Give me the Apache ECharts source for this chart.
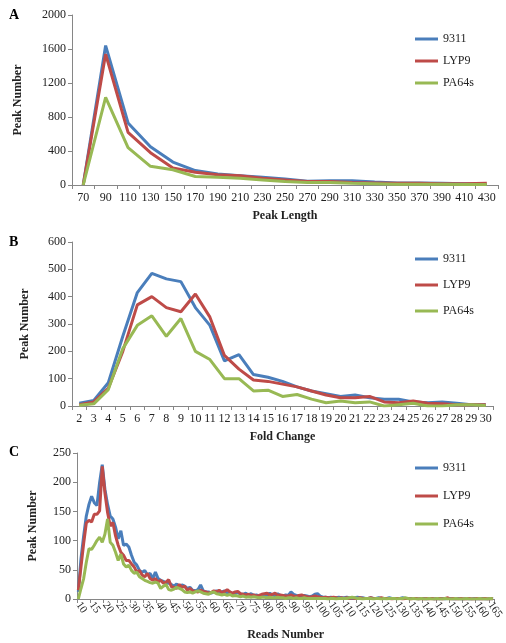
<!DOCTYPE html>
<html>
<head>
<meta charset="utf-8">
<script src="https://cdn.jsdelivr.net/npm/echarts@6.0.0/dist/echarts.min.js"></script>
<style>
html, body { margin: 0; padding: 0; background: #fff; }
#chart { width: 506px; height: 643px; }
</style>
</head>
<body>
<div id="chart"></div>
<script>
// ---------- data ----------
var seriesNames = ['9311', 'LYP9', 'PA64s'];

// A: peak length
var lengthCats = ['70', '90', '110', '130', '150', '170', '190', '210', '230', '250',
    '270', '290', '310', '330', '350', '370', '390', '410', '430'];
var length9311 = [0, 1640, 730, 450, 270, 170, 130, 110, 90, 70, 45, 50, 50, 35, 25, 25, 20, 15, 10];
var lengthLYP9 = [0, 1540, 620, 380, 200, 150, 120, 110, 80, 60, 40, 40, 30, 25, 20, 20, 15, 15, 20];
var lengthPA64s = [0, 1030, 440, 220, 180, 100, 90, 80, 60, 40, 30, 30, 20, 15, 10, 10, 8, 5, 5];

// B: fold change
var foldCats = ['2', '3', '4', '5', '6', '7', '8', '9', '10', '11', '12', '13', '14', '15', '16',
    '17', '18', '19', '20', '21', '22', '23', '24', '25', '26', '27', '28', '29', '30'];
var fold9311 = [10, 20, 85, 255, 415, 485, 465, 455, 360, 295, 165, 188, 115, 105, 90,
    70, 55, 45, 35, 40, 30, 25, 25, 15, 12, 15, 10, 5, 5];
var foldLYP9 = [5, 15, 65, 200, 370, 400, 360, 345, 410, 325, 185, 135, 95, 90, 80,
    70, 55, 40, 30, 30, 35, 15, 12, 18, 10, 8, 5, 5, 5];
var foldPA64s = [3, 8, 60, 210, 295, 330, 255, 320, 200, 170, 100, 100, 55, 58, 35,
    42, 25, 12, 18, 12, 15, 0, 5, 10, 0, 0, 5, 5, 2];

// C: reads number (10 .. 166)
var readsCats = [];
for (var r = 10; r <= 166; r++) readsCats.push(String(r));
var reads9311 = [
    12, 69, 108, 142, 162, 176, 165, 160, 199, 230,
    188, 162, 142, 137, 123, 103, 117, 92, 94, 89,
    75, 63, 58, 49, 46, 49, 41, 44, 35, 46,
    35, 32, 30, 28, 27, 25, 22, 26, 20, 24,
    22, 18, 20, 15, 14, 16, 24, 14, 12, 12,
    10, 12, 14, 11, 12, 14, 10, 12, 9, 10,
    11, 8, 8, 10, 7, 9, 6, 7, 5, 6,
    8, 6, 10, 7, 6, 9, 6, 5, 7, 6,
    12, 8, 6, 5, 4, 6, 5, 4, 5, 8,
    9, 5, 3, 3, 2, 3, 2, 2, 3, 2,
    2, 3, 2, 1, 2, 3, 2, 2, 1, 1,
    2, 1, 1, 2, 1, 1, 1, 2, 1, 1,
    1, 1, 2, 1, 1, 1, 1, 1, 0, 1,
    1, 0, 1, 1, 0, 1, 0, 1, 0, 1,
    1, 0, 0, 1, 0, 0, 1, 0, 0, 1,
    0, 0, 1, 0, 0, 1, 0];
var readsLYP9 = [
    15, 55, 95, 130, 135, 132, 145, 145, 151, 227,
    182, 148, 125, 131, 108, 92, 80, 75, 66, 66,
    60, 55, 46, 49, 41, 38, 44, 35, 32, 35,
    29, 32, 27, 29, 33, 21, 20, 18, 25, 20,
    22, 15, 18, 14, 13, 12, 15, 13, 12, 10,
    11, 14, 12, 15, 11, 13, 16, 12, 10, 12,
    13, 9, 8, 7, 8, 6, 7, 5, 6, 8,
    9, 10, 7, 8, 10, 6, 7, 6, 5, 5,
    7, 5, 4, 6, 7, 5, 4, 3, 4, 5,
    4, 3, 2, 3, 2, 2, 3, 2, 1, 2,
    1, 2, 1, 2, 1, 1, 2, 1, 1, 1,
    2, 1, 1, 1, 2, 1, 1, 1, 0, 1,
    1, 1, 0, 1, 1, 0, 1, 1, 0, 1,
    0, 1, 0, 1, 0, 0, 1, 0, 1, 2,
    0, 1, 0, 0, 1, 0, 0, 1, 0, 0,
    1, 0, 0, 1, 0, 0, 1];
var readsPA64s = [
    0, 18, 35, 63, 86, 85, 92, 100, 106, 97,
    111, 137, 97, 92, 80, 66, 77, 60, 55, 58,
    49, 44, 46, 38, 35, 32, 30, 28, 27, 29,
    27, 18, 22, 25, 16, 15, 17, 20, 18, 16,
    12, 11, 12, 10, 12, 14, 12, 10, 9, 8,
    11, 12, 9, 8, 7, 8, 6, 8, 5, 6,
    5, 4, 5, 3, 4, 3, 4, 3, 2, 3,
    3, 2, 3, 2, 2, 3, 2, 2, 1, 2,
    2, 1, 2, 1, 1, 2, 1, 1, 1, 1,
    1, 1, 1, 1, 0, 1, 1, 0, 1, 1,
    1, 1, 2, 3, 2, 1, 1, 0, 1, 1,
    1, 0, 1, 1, 0, 1, 0, 1, 1, 1,
    0, 1, 1, 2, 1, 0, 1, 0, 0, 1,
    0, 0, 1, 0, 0, 1, 0, 0, 1, 0,
    0, 0, 1, 0, 0, 0, 1, 0, 0, 0,
    0, 1, 0, 0, 0, 1, 0];

// ---------- style ----------
var serif = 'Liberation Serif';
var axisColor = '#868686';
var textColor = '#222';
var colors = ['#4a7ebb', '#be4b48', '#98b954'];

function xAxisOf(grid, cats, name, labelOpt) {
    return {
        type: 'category',
        gridIndex: grid,
        data: cats,
        boundaryGap: true,
        name: name,
        nameLocation: 'middle',
        nameGap: labelOpt.nameGap,
        nameTextStyle: { fontFamily: serif, fontWeight: 'bold', fontSize: 12, color: textColor },
        axisLine: { lineStyle: { color: axisColor } },
        axisTick: { show: true, length: 4, interval: labelOpt.interval, lineStyle: { color: axisColor } },
        axisLabel: {
            interval: labelOpt.interval,
            rotate: labelOpt.rotate || 0,
            margin: labelOpt.margin,
            showMinLabel: true,
            hideOverlap: false,
            fontFamily: serif, fontSize: labelOpt.fontSize || 12, color: textColor
        },
        splitLine: { show: false }
    };
}

function yAxisOf(grid, max, step, gap) {
    return {
        type: 'value',
        gridIndex: grid,
        min: 0, max: max, interval: step,
        name: 'Peak Number',
        nameLocation: 'middle',
        nameGap: gap,
        nameTextStyle: { fontFamily: serif, fontWeight: 'bold', fontSize: 12, color: textColor },
        axisLine: { show: true, lineStyle: { color: axisColor } },
        axisTick: { show: true, length: 4, lineStyle: { color: axisColor } },
        axisLabel: {
            margin: 6, fontFamily: serif, fontSize: 12, color: textColor,
            formatter: function (v) { return String(v); }
        },
        splitLine: { show: false }
    };
}

function legendOf(top, gap) {
    return {
        data: seriesNames,
        orient: 'vertical',
        left: 410, top: top,
        icon: 'rect',
        itemWidth: 23, itemHeight: 3,
        itemGap: gap,
        textStyle: { fontFamily: serif, fontSize: 12, color: textColor }
    };
}

function lineOf(name, grid, data, idx) {
    return {
        name: name, type: 'line',
        xAxisIndex: grid, yAxisIndex: grid,
        data: data,
        symbol: 'none',
        lineStyle: { width: 3, color: colors[idx] },
        itemStyle: { color: colors[idx] }
    };
}

var chart = echarts.init(document.getElementById('chart'));
chart.setOption({
    animation: false,
    color: colors,
    grid: [
        { left: 72, right: 8, top: 15, height: 170 },
        { left: 72, right: 13, top: 242, height: 164 },
        { left: 77, right: 9, top: 453, height: 146 }
    ],
    xAxis: [
        xAxisOf(0, lengthCats, 'Peak Length', { interval: 0, margin: 7, nameGap: 25 }),
        xAxisOf(1, foldCats, 'Fold Change', { interval: 0, margin: 7, nameGap: 25 }),
        xAxisOf(2, readsCats, 'Reads Number', { interval: 4, margin: 4, rotate: -55, fontSize: 11, nameGap: 30 })
    ],
    yAxis: [
        yAxisOf(0, 2000, 400, 48),
        yAxisOf(1, 600, 100, 41),
        yAxisOf(2, 250, 50, 38)
    ],
    legend: [legendOf(28, 10), legendOf(248, 14), legendOf(457, 16)],
    graphic: [
        { type: 'text', left: 9, top: 8, style: { text: 'A', font: 'bold 14px "Liberation Serif"', fill: '#000' } },
        { type: 'text', left: 9, top: 235, style: { text: 'B', font: 'bold 14px "Liberation Serif"', fill: '#000' } },
        { type: 'text', left: 9, top: 445, style: { text: 'C', font: 'bold 14px "Liberation Serif"', fill: '#000' } }
    ],
    series: [
        lineOf('9311', 0, length9311, 0),
        lineOf('LYP9', 0, lengthLYP9, 1),
        lineOf('PA64s', 0, lengthPA64s, 2),
        lineOf('9311', 1, fold9311, 0),
        lineOf('LYP9', 1, foldLYP9, 1),
        lineOf('PA64s', 1, foldPA64s, 2),
        lineOf('9311', 2, reads9311, 0),
        lineOf('LYP9', 2, readsLYP9, 1),
        lineOf('PA64s', 2, readsPA64s, 2)
    ]
});
</script>
</body>
</html>
